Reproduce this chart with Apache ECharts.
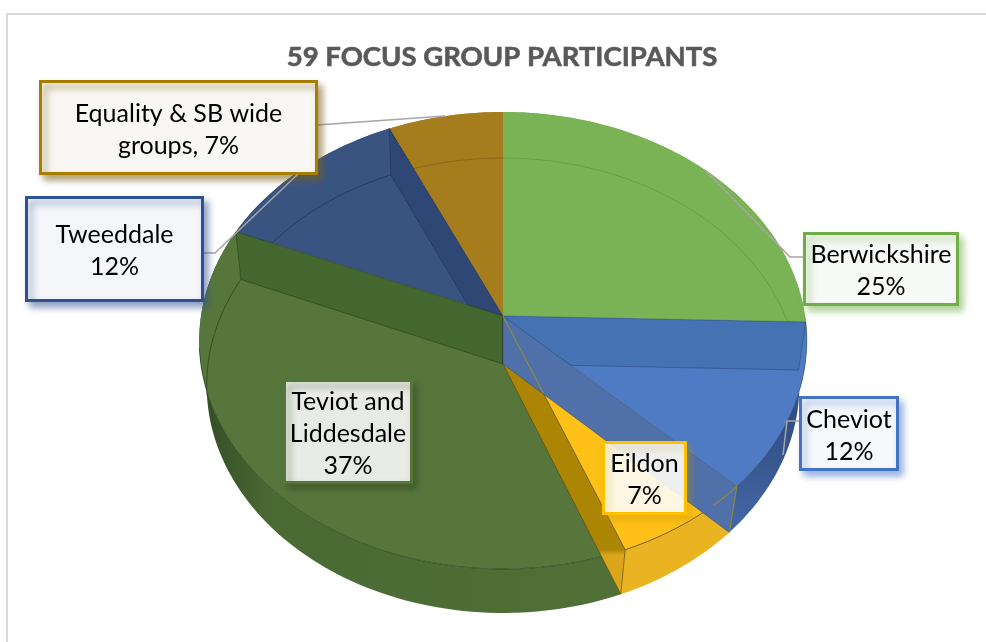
<!DOCTYPE html>
<html>
<head>
<meta charset="utf-8">
<style>
html, body { margin: 0; padding: 0; background: #fff; }
#chart { width: 986px; height: 642px; }
</style>
<script src="https://cdn.jsdelivr.net/npm/echarts@6/dist/echarts.min.js"></script>
</head>
<body>
<div id="chart"></div>
<script>
// chart values: participants per locality, clockwise from 12 o'clock
var chartTitle = '59 FOCUS GROUP PARTICIPANTS';
var localities = ['Berwickshire', 'Cheviot', 'Eildon', 'Teviot and\nLiddesdale', 'Tweeddale', 'Equality & SB wide\ngroups'];
var participants = [15, 7, 4, 22, 7, 4];
var pctSeparators = ['\n', '\n', '\n', '\n', '\n', ', '];

// back to front, so that the walls overlap as in the picture
var drawOrder = [5, 4, 3, 0, 2, 1];

// the tilted pie: top and bottom disc, each one a circle in perspective
var topDisc = { cx: 503, rho: 302, top: 112, mid: 316, bottom: 569 };
var lowDisc = { cx: 503, rho: 295, top: 158, mid: 364, bottom: 613 };

var sliceStyles = [
    { top: '#7AB356', rim: '#7AB356', line: 'rgba(60,90,40,0.25)' },
    {
        top: '#4F7AC4',
        rim: { dir: 'y', from: 350, to: 530, stops: [[0, '#4F7AC4'], [0.35, '#2F4C82'], [1, '#4468A6']] },
        line: 'rgba(30,50,90,0.5)',
        wallStart: '#4472B2',
        wallEnd: '#4F70A8'
    },
    {
        top: '#FFC017',
        rim: '#E9B321',
        line: 'rgba(80,70,20,0.8)',
        // flat down to the front edge of the disc, lighter under it
        wallEnd: { dir: 'y', from: 316, to: 594, stops: [[0, '#AD8505'], [0.84, '#AD8505'], [0.86, '#DBA61B'], [1, '#DBA61B']] }
    },
    {
        top: '#56763C',
        rim: { dir: 'x', from: 205, to: 620, stops: [[0, '#344E25'], [0.16, '#4A6A34'], [1, '#507037']] },
        line: 'rgba(25,45,15,0.55)',
        wallEnd: '#44662F'
    },
    { top: '#3A5482', rim: '#3A5482', line: 'rgba(20,35,65,0.5)', wallEnd: '#2E4774' },
    { top: '#A67D1C', rim: '#A67D1C', line: 'rgba(90,65,10,0.35)' }
];

var labelBoxes = [
    { x: 804.5, y: 233.5, w: 153, h: 71, border: '#70AD47', fill: 'rgba(248,250,247,1)', shadow: 'rgba(112,173,71,0.55)', leader: [[803, 257], [790, 257], [705, 170]] },
    { x: 800.5, y: 397.5, w: 97, h: 72, border: '#4472C4', fill: 'rgba(246,248,252,1)', shadow: 'rgba(68,114,196,0.55)', leader: [[799, 421], [787, 421], [783, 455]] },
    { x: 603.5, y: 442.5, w: 82, h: 71, border: '#FFC000', fill: 'rgba(255,255,255,0.88)', shadow: 'rgba(200,150,0,0.35)' },
    { x: 284.5, y: 380.5, w: 127, h: 102, border: '#54763A', fill: 'rgba(255,255,255,0.88)', shadow: 'rgba(40,60,25,0.45)' },
    { x: 26.5, y: 197.5, w: 176, h: 103, border: '#2F528F', fill: 'rgba(245,246,249,1)', shadow: 'rgba(47,82,143,0.55)', leader: [[203, 253], [215, 253], [298, 174]] },
    { x: 40.5, y: 81.5, w: 276, h: 92, border: '#A67D00', fill: 'rgba(248,247,243,1)', shadow: 'rgba(120,95,20,0.6)', leader: [[317, 125], [445, 116]] }
];

var total = 0;
participants.forEach(function (v) { total += v; });

// slice start / end angles in degrees
var startAngles = [];
var endAngles = [];
var running = 0;
participants.forEach(function (v) {
    startAngles.push(running / total * 360);
    running += v;
    endAngles.push(running / total * 360);
});

function project(disc, deg) {
    var a = deg * Math.PI / 180;
    var sx = Math.sin(a);
    var cy = Math.cos(a);
    var k = (2 * disc.mid - disc.top - disc.bottom) / (disc.top - disc.bottom);
    var alpha = disc.top * (1 + k) - disc.mid;
    var den = 1 + k * cy;
    return [disc.cx + disc.rho * sx / den, (alpha * cy + disc.mid) / den];
}

function arcPoints(disc, from, to) {
    var pts = [];
    var n = Math.max(2, Math.ceil(Math.abs(to - from) / 1.5));
    for (var i = 0; i <= n; i++) {
        pts.push(project(disc, from + (to - from) * i / n));
    }
    return pts;
}

function bandFill(band) {
    if (typeof band === 'string') return band;
    var stops = band.stops.map(function (s) {
        return { offset: s[0], color: s[1] };
    });
    if (band.dir === 'x') {
        return new echarts.graphic.LinearGradient(band.from, 0, band.to, 0, stops, true);
    }
    return new echarts.graphic.LinearGradient(0, band.from, 0, band.to, stops, true);
}

function wallShape(deg, fill, line) {
    return {
        type: 'polygon',
        shape: { points: [[topDisc.cx, topDisc.mid], project(topDisc, deg), project(lowDisc, deg), [lowDisc.cx, lowDisc.mid]] },
        style: { fill: bandFill(fill), stroke: line, lineWidth: 0.75 }
    };
}

function renderSlice(params, api) {
    var idx = api.value(0);
    var from = api.value(1);
    var to = api.value(2);
    var st = sliceStyles[idx];
    var kids = [];

    // outer wall, under the top face
    var rimPts = arcPoints(topDisc, from, to).concat(arcPoints(lowDisc, to, from));
    kids.push({ type: 'polygon', shape: { points: rimPts }, style: { fill: bandFill(st.rim) } });

    // top face
    var facePts = [[topDisc.cx, topDisc.mid]].concat(arcPoints(topDisc, from, to));
    kids.push({ type: 'polygon', shape: { points: facePts }, style: { fill: st.top } });

    // thin arc: front edge of the top disc, back edge of the lower one
    var frontFrom = Math.max(from, 90);
    var frontTo = Math.min(to, 262);
    if (frontFrom < frontTo) {
        kids.push({ type: 'polyline', shape: { points: arcPoints(topDisc, frontFrom, frontTo) }, style: { fill: null, stroke: st.line, lineWidth: 1 } });
    }
    if (to > 262) {
        kids.push({ type: 'polyline', shape: { points: arcPoints(lowDisc, Math.max(from, 262), to) }, style: { fill: null, stroke: st.line, lineWidth: 1 } });
    } else if (from < 90) {
        kids.push({ type: 'polyline', shape: { points: arcPoints(lowDisc, from, Math.min(to, 90)) }, style: { fill: null, stroke: st.line, lineWidth: 1 } });
    }

    if (st.wallStart) kids.push(wallShape(from, st.wallStart, st.line));
    if (st.wallEnd) kids.push(wallShape(to, st.wallEnd, st.line));

    // the Eildon edges show through the blue wall
    if (idx === 1) {
        var eildonEnd = endAngles[2];
        var edge = project(topDisc, eildonEnd);
        var olive = 'rgba(150,140,60,0.9)';
        kids.push({
            type: 'polyline',
            shape: { points: [[topDisc.cx, topDisc.mid], [topDisc.cx + (edge[0] - topDisc.cx) * 0.33, topDisc.mid + (edge[1] - topDisc.mid) * 0.33]] },
            style: { fill: null, stroke: olive, lineWidth: 1.2 }
        });
        kids.push({ type: 'polyline', shape: { points: arcPoints(topDisc, to, to + 6) }, style: { fill: null, stroke: olive, lineWidth: 1.2 } });
        kids.push({ type: 'polyline', shape: { points: [project(topDisc, to), project(lowDisc, to)] }, style: { fill: null, stroke: olive, lineWidth: 1.2 } });
    }
    return { type: 'group', children: kids };
}

function renderLabel(params, api) {
    var idx = api.value(0);
    var box = labelBoxes[idx];
    var kids = [];
    if (box.leader) {
        kids.push({ type: 'polyline', shape: { points: box.leader }, style: { fill: null, stroke: '#A6A6A6', lineWidth: 1.5 } });
    }
    kids.push({
        type: 'rect',
        shape: { x: box.x, y: box.y, width: box.w, height: box.h },
        style: { fill: box.fill, stroke: box.border, lineWidth: 3, shadowColor: box.shadow, shadowBlur: 7, shadowOffsetX: 4, shadowOffsetY: 5 }
    });
    var pct = Math.round(participants[idx] / total * 100) + '%';
    kids.push({
        type: 'text',
        style: {
            x: box.x + box.w / 2,
            y: box.y + box.h / 2 + 2,
            text: localities[idx] + pctSeparators[idx] + pct,
            font: '25px Lato',
            lineHeight: 32,
            fill: '#000',
            align: 'center',
            verticalAlign: 'middle'
        }
    });
    return { type: 'group', children: kids };
}

var sliceData = drawOrder.map(function (i) {
    return [i, startAngles[i], endAngles[i]];
});
var labelData = drawOrder.map(function (i) {
    return [i];
});

var myChart = echarts.init(document.getElementById('chart'));

var option = {
    animation: false,
    backgroundColor: '#fff',
    title: {
        text: chartTitle,
        left: 497,
        top: 38,
        textAlign: 'center',
        textStyle: {
            fontFamily: 'Lato',
            fontWeight: 'bold',
            fontSize: 27.5,
            color: '#595959',
            textBorderColor: '#595959',
            textBorderWidth: 0.6
        }
    },
    graphic: [{
        type: 'polyline',
        shape: { points: [[7, 642], [7, 14], [986, 14]] },
        style: { fill: null, stroke: '#D9D9D9', lineWidth: 2 },
        silent: true
    }],
    series: [{
        type: 'custom',
        coordinateSystem: 'none',
        silent: true,
        z: 2,
        renderItem: renderSlice,
        data: sliceData
    }, {
        type: 'custom',
        coordinateSystem: 'none',
        silent: true,
        z: 3,
        renderItem: renderLabel,
        data: labelData
    }]
};
myChart.setOption(option);
</script>
</body>
</html>
